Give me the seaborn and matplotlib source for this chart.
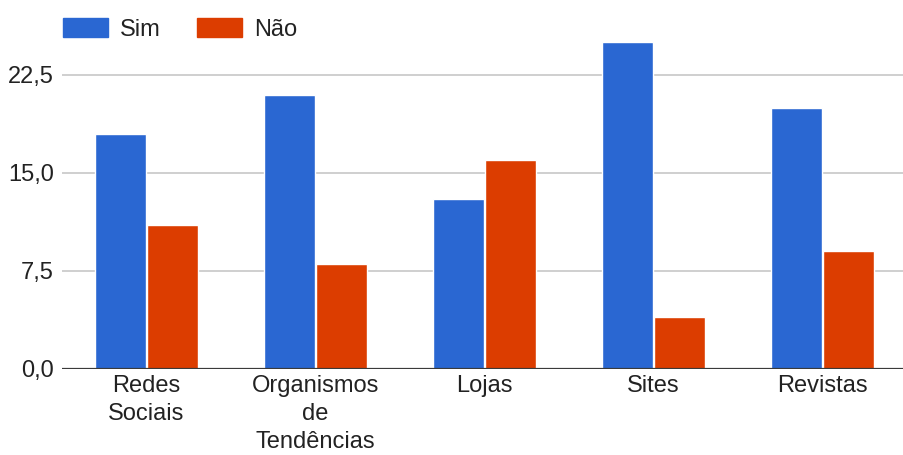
import matplotlib
matplotlib.use("Agg")
import matplotlib.pyplot as plt
import matplotlib.patches as mpatches
import seaborn as sns
import pandas as pd

# Survey answers per information source
categories = ["Redes\nSociais", "Organismos\nde\nTendências", "Lojas", "Sites", "Revistas"]
sim_values = [18, 21, 13, 25, 20]
nao_values = [11, 8, 16, 4, 9]
series_names = ["Sim", "Não"]
y_ticks = [0, 7.5, 15, 22.5]
y_tick_labels = ["0,0", "7,5", "15,0", "22,5"]

colors = ["#2a67d2", "#dc3d00"]

df = pd.DataFrame({
    "categoria": categories * 2,
    "resposta": [series_names[0]] * len(categories) + [series_names[1]] * len(categories),
    "valor": sim_values + nao_values,
})

sns.set_theme(style="white")
plt.rcParams["font.family"] = ["Liberation Sans", "DejaVu Sans"]

FS = 17
W, H = 904, 455
fig = plt.figure(figsize=(W / 100, H / 100), dpi=100)
ax_left, ax_bottom = 62, 369
ymax = 26
px_per_unit = 13.07
ax_h = ymax * px_per_unit
ax_w = 845
ax = fig.add_axes([ax_left / W, 1 - ax_bottom / H, ax_w / W, ax_h / H])

sns.barplot(data=df, x="categoria", y="valor", hue="resposta",
            palette=colors, width=0.62, gap=0.025, saturation=1,
            ax=ax, legend=False, zorder=3)

ax.set_ylim(0, ymax)
ax.set_xlim(-0.5, len(categories) - 0.5)
ax.set_yticks(y_ticks)
ax.set_yticklabels(y_tick_labels)
ax.set_xlabel("")
ax.set_ylabel("")
for s in ax.spines.values():
    s.set_visible(False)
ax.grid(axis="y", color="#cccccc", linewidth=1.3, zorder=0)
ax.grid(axis="x", visible=False)
ax.axhline(0, color="#3a3a3a", linewidth=1.6, zorder=4)
ax.tick_params(axis="both", length=0, labelsize=FS, colors="#222222")
ax.tick_params(axis="y", pad=6)
ax.tick_params(axis="x", pad=4)
for lbl in ax.get_xticklabels():
    lbl.set_linespacing(1.36)

handles = [mpatches.Patch(color=c, label=n) for c, n in zip(colors, series_names)]
fig.legend(handles=handles, loc="upper left", bbox_to_anchor=(63 / W, 1 - 18 / H),
           ncol=2, frameon=False, fontsize=FS, handlelength=1.9, handleheight=0.85,
           handletextpad=0.5, columnspacing=1.55, borderpad=0, borderaxespad=0,
           labelcolor="#222222")

fig.savefig("out.png", dpi=100)
